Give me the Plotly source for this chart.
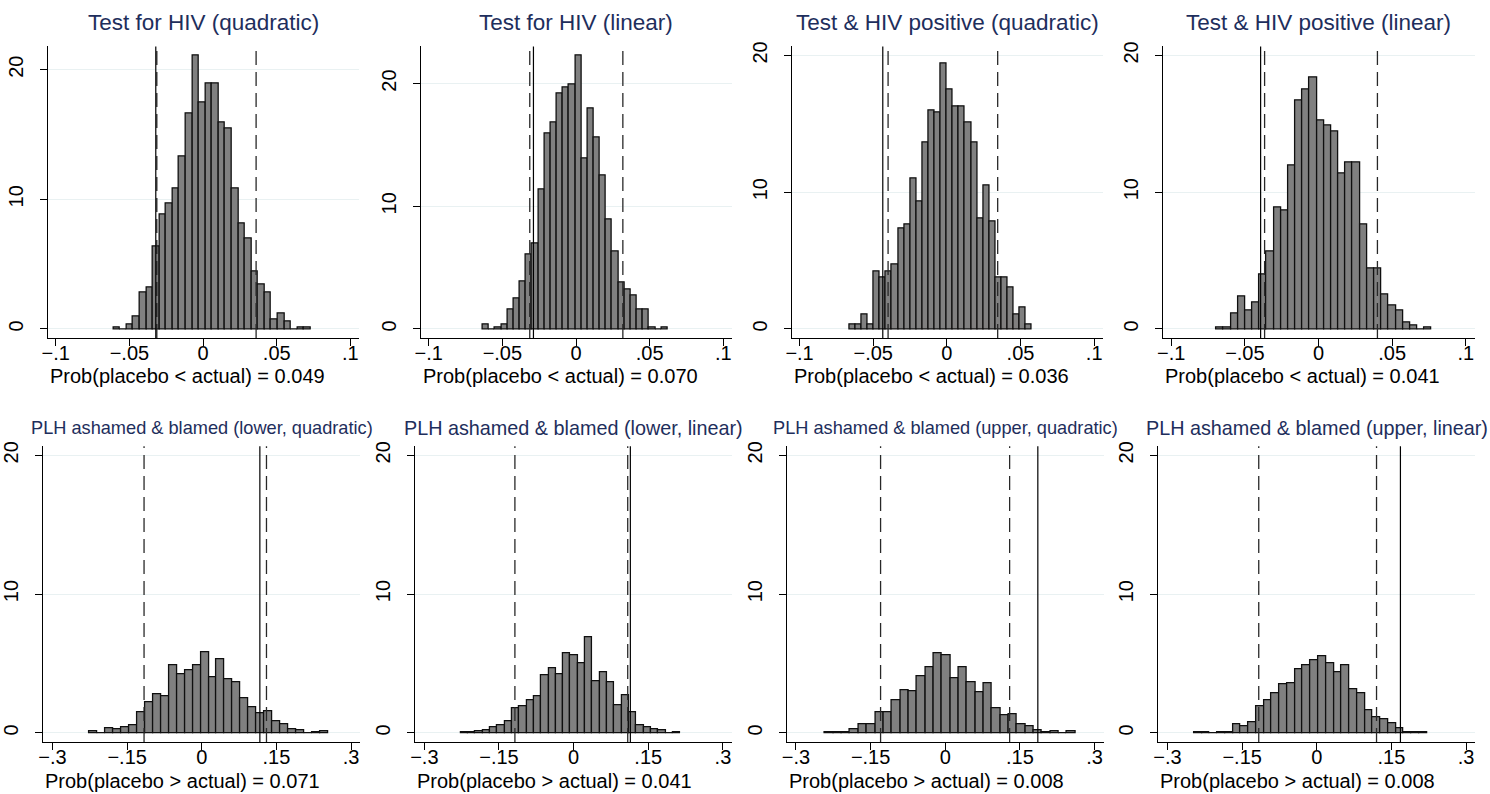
import plotly.graph_objects as go

# ---------------- data ----------------
titles = [
    "Test for HIV (quadratic)",
    "Test for HIV (linear)",
    "Test &amp; HIV positive (quadratic)",
    "Test &amp; HIV positive (linear)",
    "PLH ashamed &amp; blamed (lower, quadratic)",
    "PLH ashamed &amp; blamed (lower, linear)",
    "PLH ashamed &amp; blamed (upper, quadratic)",
    "PLH ashamed &amp; blamed (upper, linear)",
]
notes = [
    "Prob(placebo &lt; actual) = 0.049",
    "Prob(placebo &lt; actual) = 0.070",
    "Prob(placebo &lt; actual) = 0.036",
    "Prob(placebo &lt; actual) = 0.041",
    "Prob(placebo &gt; actual) = 0.071",
    "Prob(placebo &gt; actual) = 0.041",
    "Prob(placebo &gt; actual) = 0.008",
    "Prob(placebo &gt; actual) = 0.008",
]

# histogram bins: first bin left edge and bin width
bin_start = [-0.0608, -0.0632, -0.0661, -0.0693, -0.226, -0.2267, -0.2413, -0.2467]
bin_width = [0.00446, 0.00418, 0.00413, 0.00487, 0.016, 0.0147, 0.01676, 0.0156]

density_1 = [0.15, 0, 0.33, 1.0, 2.8, 3.2, 6.4, 8.8, 9.7, 10.8, 13.3, 16.6, 21.1, 17.5, 18.9,
             18.9, 15.9, 15.5, 10.8, 8.1, 7.0, 4.4, 3.4, 2.8, 0.77, 1.2, 0.56, 0, 0.15, 0.15]
density_2 = [0.38, 0, 0.1, 0.35, 1.57, 2.5, 3.9, 6.1, 7.0, 11.4, 15.9, 16.8, 19.2, 19.7, 19.9,
             22.3, 13.9, 18.0, 15.6, 12.5, 8.9, 6.3, 3.8, 3.2, 2.7, 1.57, 1.57, 0.16, 0, 0.1]
density_3 = [0.34, 0.34, 1.09, 0.34, 4.23, 3.75, 4.23, 4.72, 7.38, 7.62, 11.0, 9.29, 13.64, 16.0, 15.8,
             19.4, 17.5, 16.3, 16.3, 15.07, 13.64, 8.1, 10.5, 7.86, 3.75, 3.75, 3.02, 1.09, 1.57, 0.34]
density_4 = [0.1, 0.1, 1.14, 2.37, 1.33, 1.96, 3.99, 5.66, 8.92, 8.68, 11.97, 16.69, 17.53, 18.36, 15.26,
             14.87, 14.44, 11.39, 12.19, 12.19, 7.67, 4.40, 4.40, 2.54, 1.74, 1.33, 0.51, 0.27, 0, 0.1]
density_5 = [0.1, 0, 0.31, 0.24, 0.45, 0.59, 1.5, 2.21, 2.78, 2.64, 4.89, 4.2, 4.51, 4.89, 5.84,
             4.01, 5.3, 3.9, 3.63, 2.47, 1.85, 1.45, 1.59, 0.88, 0.64, 0.24, 0.17, 0, 0.05, 0.1]
density_6 = [0.05, 0.05, 0.1, 0.21, 0.38, 0.53, 0.86, 1.79, 1.93, 2.39, 2.67, 4.18, 4.65, 4.22, 5.75,
             5.61, 5.04, 6.9, 3.75, 4.39, 3.63, 1.98, 2.74, 1.46, 0.53, 0.43, 0.29, 0.17, 0, 0.05]
density_7 = [0.03, 0.03, 0.05, 0.29, 0.6, 0.6, 1.47, 1.47, 2.35, 3.06, 3.0, 4.06, 4.75, 5.77, 5.63,
             3.97, 4.77, 3.66, 2.92, 3.58, 1.78, 1.31, 1.35, 0.6, 0.48, 0.21, 0.03, 0.1, 0, 0.1]
density_8 = [0.03, 0.03, 0, 0.05, 0.05, 0.64, 0.5, 0.79, 1.93, 2.36, 2.86, 3.5, 3.56, 4.58, 4.89,
             5.23, 5.56, 4.99, 4.34, 4.91, 3.15, 2.86, 1.65, 1.1, 1.0, 0.72, 0.36, 0.07, 0.05, 0.05]
densities = [density_1, density_2, density_3, density_4, density_5, density_6, density_7, density_8]

actual_estimate = [-0.0321, -0.0289, -0.0435, -0.0393, 0.1167, 0.114, 0.186, 0.168]
lower_cut = [-0.0314, -0.0314, -0.0399, -0.0366, -0.116, -0.118, -0.13, -0.1167]
upper_cut = [0.0360, 0.0318, 0.0345, 0.0400, 0.130, 0.1087, 0.1293, 0.12]

top_ticks = [-0.1, -0.05, 0, 0.05, 0.1]
top_tick_text = ["\u2212.1", "\u2212.05", "0", ".05", ".1"]
bottom_ticks = [-0.3, -0.15, 0, 0.15, 0.3]
bottom_tick_text = ["\u2212.3", "\u2212.15", "0", ".15", ".3"]
y_ticks = [0, 10, 20]
y_tick_text = ["0", "10", "20"]

# ---------------- layout geometry (pixels) ----------------
W, H = 1490, 794
FONT = "Liberation Sans, Arial, Helvetica, sans-serif"
TITLE_COLOR = "rgb(30,46,92)"
GRID = "rgb(233,241,242)"

top_centers = [197, 571.7, 944.3, 1317.7]
bot_centers = [195.7, 569.3, 942.7, 1316]
top_xr = [-0.1054, 0.106]
bot_xr = [-0.3186, 0.3186]
top_ppu = 1480.0
bot_ppu = 500.0
top_y = (41.7, 335.0)
bot_y = (444.0, 741.7)
title_sizes = [22.5, 22.5, 22.5, 22.5, 18.2, 19.8, 18.2, 19.8]

fig = go.Figure()
layout = dict(
    width=W, height=H, margin=dict(l=0, r=0, t=0, b=0),
    paper_bgcolor="white", plot_bgcolor="white",
    showlegend=False, bargap=0, font=dict(family=FONT, size=20, color="black"),
)
shapes = []
annotations = []

for i in range(8):
    k = i + 1
    xa = "x" if k == 1 else f"x{k}"
    ya = "y" if k == 1 else f"y{k}"
    top = i < 4
    c = top_centers[i % 4] if top else bot_centers[i % 4]
    xr = top_xr if top else bot_xr
    ppu = top_ppu if top else bot_ppu
    left_px = c + xr[0] * ppu
    right_px = c + xr[1] * ppu
    y0px, y1px = top_y if top else bot_y

    d = densities[i]
    centers = [bin_start[i] + bin_width[i] * (j + 0.5) for j in range(len(d))]
    fig.add_trace(go.Bar(
        x=centers, y=d, width=[bin_width[i]] * len(d),
        marker=dict(color="rgb(128,128,128)", line=dict(color="rgb(15,15,15)", width=1.3)),
        xaxis=xa, yaxis=ya, hoverinfo="skip",
    ))

    ymax = max(max(d), 20)
    m = 0.0327 * ymax
    layout["xaxis" if k == 1 else f"xaxis{k}"] = dict(
        domain=[left_px / W, right_px / W], anchor=ya, range=xr,
        tickvals=top_ticks if top else bottom_ticks,
        ticktext=top_tick_text if top else bottom_tick_text,
        showline=True, linecolor="black", linewidth=1.2,
        ticks="outside", ticklen=7, tickcolor="black", tickwidth=1,
        ticklabelstandoff=-10,
        showgrid=False, zeroline=False,
        tickfont=dict(family=FONT, size=20, color="black"),
    )
    layout["yaxis" if k == 1 else f"yaxis{k}"] = dict(
        domain=[1 - y1px / H, 1 - y0px / H], anchor=xa, range=[-m, ymax + m],
        tickvals=y_ticks, ticktext=y_tick_text, tickangle=-90,
        showline=True, linecolor="black", linewidth=1.2,
        ticks="outside", ticklen=7, tickcolor="black", tickwidth=1,
        ticklabelstandoff=9,
        showgrid=True, gridcolor=GRID, gridwidth=1, zeroline=False,
        tickfont=dict(family=FONT, size=20, color="black"),
    )

    for xv, dash, col, wdt in [(lower_cut[i], "14px,7px", "rgb(40,40,40)", 1.3),
                                (upper_cut[i], "14px,7px", "rgb(40,40,40)", 1.3),
                                (actual_estimate[i], "solid", "black", 1.2)]:
        shapes.append(dict(type="line", xref=xa, yref=f"{ya} domain", x0=xv, x1=xv, y0=0, y1=1,
                           line=dict(color=col, width=wdt, dash=dash)))

    title_y = 18 if top else 426
    annotations.append(dict(
        text=titles[i], xref="paper", yref="paper", x=((left_px + right_px) / 2) / W,
        y=1 - title_y / H, xanchor="center", yanchor="middle", showarrow=False,
        font=dict(family=FONT, size=title_sizes[i], color=TITLE_COLOR),
    ))
    note_y = 373 if top else 781
    annotations.append(dict(
        text=notes[i], xref="paper", yref="paper", x=left_px / W,
        y=1 - note_y / H, xanchor="left", yanchor="middle", showarrow=False,
        font=dict(family=FONT, size=20, color="black"),
    ))

layout["shapes"] = shapes
layout["annotations"] = annotations
fig.update_layout(**layout)
fig.write_html("out.html")
